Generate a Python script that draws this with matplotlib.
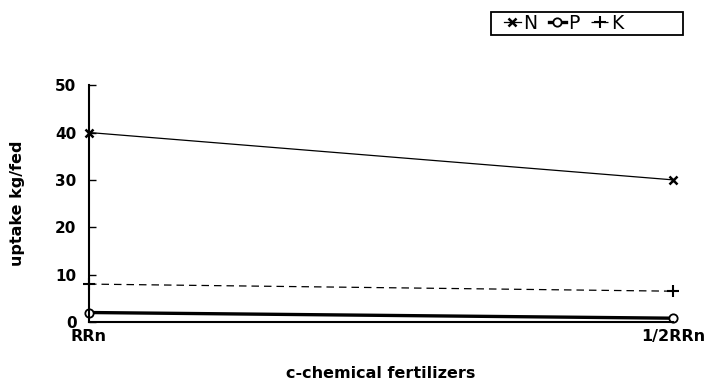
import matplotlib
matplotlib.use("Agg")
import matplotlib.pyplot as plt
from matplotlib.patches import Rectangle

categories = ["RRn", "1/2RRn"]
N_vals = [40, 30]
P_vals = [2, 0.8]
K_vals = [8, 6.5]
yticks = [0, 10, 20, 30, 40, 50]

plt.rcParams['font.family'] = ['DejaVu Sans']

fig = plt.figure(figsize=(7.08, 3.87), dpi=100)
ax = fig.add_axes([0.1257, 0.168, 0.825, 0.612])
x = list(range(len(categories)))

ax.plot(x, N_vals, color='black', lw=0.9, marker='x', ms=6, mew=1.8, label='N', clip_on=False)
ax.plot(x, P_vals, color='black', lw=2.4, marker='o', ms=6, mfc='white', mew=1.3, label='P', clip_on=False)
ax.plot(x, K_vals, color='black', lw=0.9, ls=(0, (6, 4)), marker='+', ms=9, mew=1.5, label='K', clip_on=False)

ax.set_xlim(0, 1)
ax.set_ylim(0, 50)
ax.set_yticks(yticks)
ax.set_yticklabels([str(v) for v in yticks], fontweight='bold', fontsize=11)
ax.set_xticks(x)
ax.set_xticklabels(categories, fontweight='bold', fontsize=11.5)
ax.tick_params(axis='x', length=0, pad=5)
ax.tick_params(axis='y', direction='in', length=5, width=1, pad=9)
ax.spines['top'].set_visible(False)
ax.spines['right'].set_visible(False)
ax.spines['left'].set_linewidth(1.5)
ax.spines['bottom'].set_linewidth(1.5)
ax.set_ylabel('uptake kg/fed', fontweight='bold', fontsize=11.5, labelpad=22)
ax.set_xlabel('c-chemical fertilizers', fontweight='bold', fontsize=11.5, labelpad=16)

leg = fig.legend(loc='center left', bbox_to_anchor=(0.693, 0.94), ncol=3,
                 frameon=False, fontsize=13.5,
                 handlelength=0.9, handletextpad=0.15, columnspacing=0.6,
                 borderpad=0.2)
box = Rectangle((491/708, 1 - 35/387), (683-491)/708, 23/387, transform=fig.transFigure,
                fill=False, edgecolor='black', lw=1.3)
fig.add_artist(box)

fig.savefig('out.png', dpi=100)
